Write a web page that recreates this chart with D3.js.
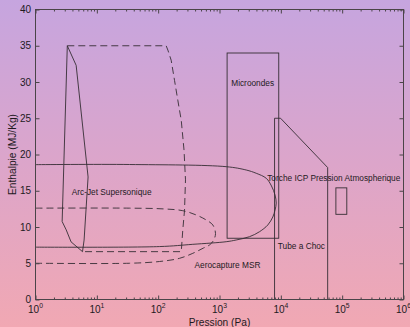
<!DOCTYPE html>
<html>
<head>
<meta charset="utf-8">
<script src="https://cdn.jsdelivr.net/npm/d3@7"></script>
<style>
  html, body { margin: 0; padding: 0; background: #f1a9b5; }
  svg { display: block; font-family: "Liberation Sans", Arial, Helvetica, sans-serif; }
</style>
</head>
<body>
<svg id="chart" width="410" height="327"></svg>
<script>
// Operating domains of plasma facilities: [pressure (Pa), enthalpy (MJ/kg)]
const arcJetCore = [[3.3, 35], [4.6, 32.3], [7.2, 16.9], [6.2, 8.2], [5.84, 6.6],
  [3.8, 7.95], [3.17, 9.6], [2.72, 10.75], [3.3, 35]];
const arcJetExtended = [[3.3, 35], [135, 35], [144, 34.4], [163, 33.0], [185, 30.2],
  [209, 27.5], [238, 24.7], [264, 20.6], [279, 16.5], [269, 12.3], [252, 9.6],
  [238, 6.6], [5.84, 6.6]];
const arcJetEnvelope = [[1, 18.6], [34, 18.62], [1286, 18.32], [2727, 17.86], [3970, 17.41],
  [5780, 16.72], [7040, 15.66], [8040, 14.41], [8410, 13.3], [8040, 12.34], [7400, 11.38],
  [6130, 10.28], [4490, 9.35], [3080, 8.66], [1870, 8.21], [1286, 7.97], [367, 7.61],
  [105, 7.3], [1, 7.22]];
const aerocaptureMSR = [[1, 12.6], [34, 12.6], [120, 12.5], [252, 12.25], [417, 11.66],
  [607, 10.97], [778, 10.28], [861, 9.1], [798, 8.14], [687, 7.52], [548, 7.1],
  [367, 6.37], [223, 5.68], [105, 5.24], [34, 5.0], [1, 5.0]];
const shockTube = [[7900, 0], [7900, 25], [9900, 25], [58000, 18.2], [58000, 0]];
// rectangles: [pMin, pMax, hMin, hMax]
const microwave = [1330, 9250, 8.45, 34];
const icpTorch = [79000, 119000, 11.75, 15.4];

// label text and anchor point [pressure, enthalpy] (baseline start)
const labelTexts = ["Microondes", "Torche ICP Pression Atmospherique", "Arc-Jet Supersonique",
  "Aerocapture MSR", "Tube a Choc"];
const labelPoints = [[1553, 29.4], [6000, 16.3], [3.9, 14.4], [391, 4.4], [8930, 6.95]];

const yTicks = [0, 5, 10, 15, 20, 25, 30, 35, 40];
const xExponents = [0, 1, 2, 3, 4, 5, 6];
const xTitle = "Pression (Pa)";
const yTitle = "Enthalpie (MJ/Kg)";

const svg = d3.select("#chart");
const W = 410, H = 327;
const plotLeft = 35.5, plotRight = 403.5, plotTop = 9.5, plotBottom = 299.5;

const defs = svg.append("defs");
const grad = defs.append("linearGradient").attr("id", "bg")
  .attr("x1", 0).attr("y1", 0).attr("x2", 0).attr("y2", 1);
grad.append("stop").attr("offset", 0).attr("stop-color", "#c6a5df");
grad.append("stop").attr("offset", 0.5).attr("stop-color", "#dca5ca");
grad.append("stop").attr("offset", 1).attr("stop-color", "#f1a8b3");
defs.append("clipPath").attr("id", "plotClip").append("rect")
  .attr("x", plotLeft).attr("y", plotTop)
  .attr("width", plotRight - plotLeft).attr("height", plotBottom - plotTop);

svg.append("rect").attr("width", W).attr("height", H).attr("fill", "url(#bg)");

const x = d3.scaleLog().domain([1, 1e6]).range([plotLeft, plotRight]);
const y = d3.scaleLinear().domain([0, 40]).range([plotBottom, plotTop]);

const lineColor = "#352e34";
const plot = svg.append("g").attr("clip-path", "url(#plotClip)")
  .attr("fill", "none").attr("stroke", lineColor).attr("stroke-width", 0.9);

const straight = d3.line().x(d => x(d[0])).y(d => y(d[1]));
const smooth = d3.line().x(d => x(d[0])).y(d => y(d[1])).curve(d3.curveCatmullRom.alpha(0.5));

plot.append("path").attr("d", straight(arcJetCore));
plot.append("path").attr("d", straight(arcJetExtended)).attr("stroke-dasharray", "7,4");
plot.append("path").attr("d", smooth(arcJetEnvelope));
plot.append("path").attr("d", smooth(aerocaptureMSR)).attr("stroke-dasharray", "7,4");
plot.append("path").attr("d", straight(shockTube));

[microwave, icpTorch].forEach(r => {
  plot.append("rect")
    .attr("x", x(r[0])).attr("width", x(r[1]) - x(r[0]))
    .attr("y", y(r[3])).attr("height", y(r[2]) - y(r[3]));
});

svg.append("g").selectAll("text").data(labelTexts).join("text")
  .attr("x", (d, i) => x(labelPoints[i][0]))
  .attr("y", (d, i) => y(labelPoints[i][1]))
  .attr("font-size", 8.3).attr("fill", "#1e1a1e")
  .text(d => d);

// axes: ticks point inward on all four sides
const majors = xExponents.map(e => Math.pow(10, e));
const minors = [];
xExponents.slice(0, -1).forEach(e => {
  for (let m = 2; m <= 9; m++) minors.push(m * Math.pow(10, e));
});

const axisColor = "#4a4448";
function styleAxis(g) {
  g.select(".domain").remove();
  g.selectAll(".tick line").attr("stroke", axisColor);
  g.selectAll(".tick text").attr("fill", "#1e1a1e").attr("font-size", 10)
    .attr("font-family", null);
}

svg.append("g").attr("transform", `translate(0,${plotBottom})`)
  .call(d3.axisBottom(x).tickValues(majors).tickSizeInner(-4).tickSizeOuter(0).tickFormat(""))
  .call(styleAxis);
svg.append("g").attr("transform", `translate(0,${plotBottom})`)
  .call(d3.axisBottom(x).tickValues(minors).tickSizeInner(-2).tickSizeOuter(0).tickFormat(""))
  .call(styleAxis);
svg.append("g").attr("transform", `translate(0,${plotTop})`)
  .call(d3.axisTop(x).tickValues(majors).tickSizeInner(-4).tickSizeOuter(0).tickFormat(""))
  .call(styleAxis);
svg.append("g").attr("transform", `translate(0,${plotTop})`)
  .call(d3.axisTop(x).tickValues(minors).tickSizeInner(-2).tickSizeOuter(0).tickFormat(""))
  .call(styleAxis);
svg.append("g").attr("transform", `translate(${plotLeft},0)`)
  .call(d3.axisLeft(y).tickValues(yTicks).tickSizeInner(-4).tickSizeOuter(0).tickPadding(4.5))
  .call(styleAxis);
svg.append("g").attr("transform", `translate(${plotRight},0)`)
  .call(d3.axisRight(y).tickValues(yTicks).tickSizeInner(-4).tickSizeOuter(0).tickFormat(""))
  .call(styleAxis);

svg.append("rect").attr("x", plotLeft).attr("y", plotTop)
  .attr("width", plotRight - plotLeft).attr("height", plotBottom - plotTop)
  .attr("fill", "none").attr("stroke", axisColor).attr("stroke-width", 1);

// log-axis labels as 10 with superscript exponent
const xl = svg.append("g").selectAll("text").data(xExponents).join("text")
  .attr("x", e => x(Math.pow(10, e))).attr("y", 313)
  .attr("text-anchor", "middle").attr("font-size", 10).attr("fill", "#1e1a1e");
xl.append("tspan").text("10");
xl.append("tspan").attr("dy", -5).attr("font-size", 6.8).text(e => e);

svg.append("text").attr("x", (plotLeft + plotRight) / 2).attr("y", 325.5)
  .attr("text-anchor", "middle").attr("font-size", 10.2).attr("fill", "#1e1a1e")
  .text(xTitle);
svg.append("text").attr("transform", `translate(15.5,${(plotTop + plotBottom) / 2}) rotate(-90)`)
  .attr("text-anchor", "middle").attr("font-size", 10.2).attr("fill", "#1e1a1e")
  .text(yTitle);
</script>
</body>
</html>
